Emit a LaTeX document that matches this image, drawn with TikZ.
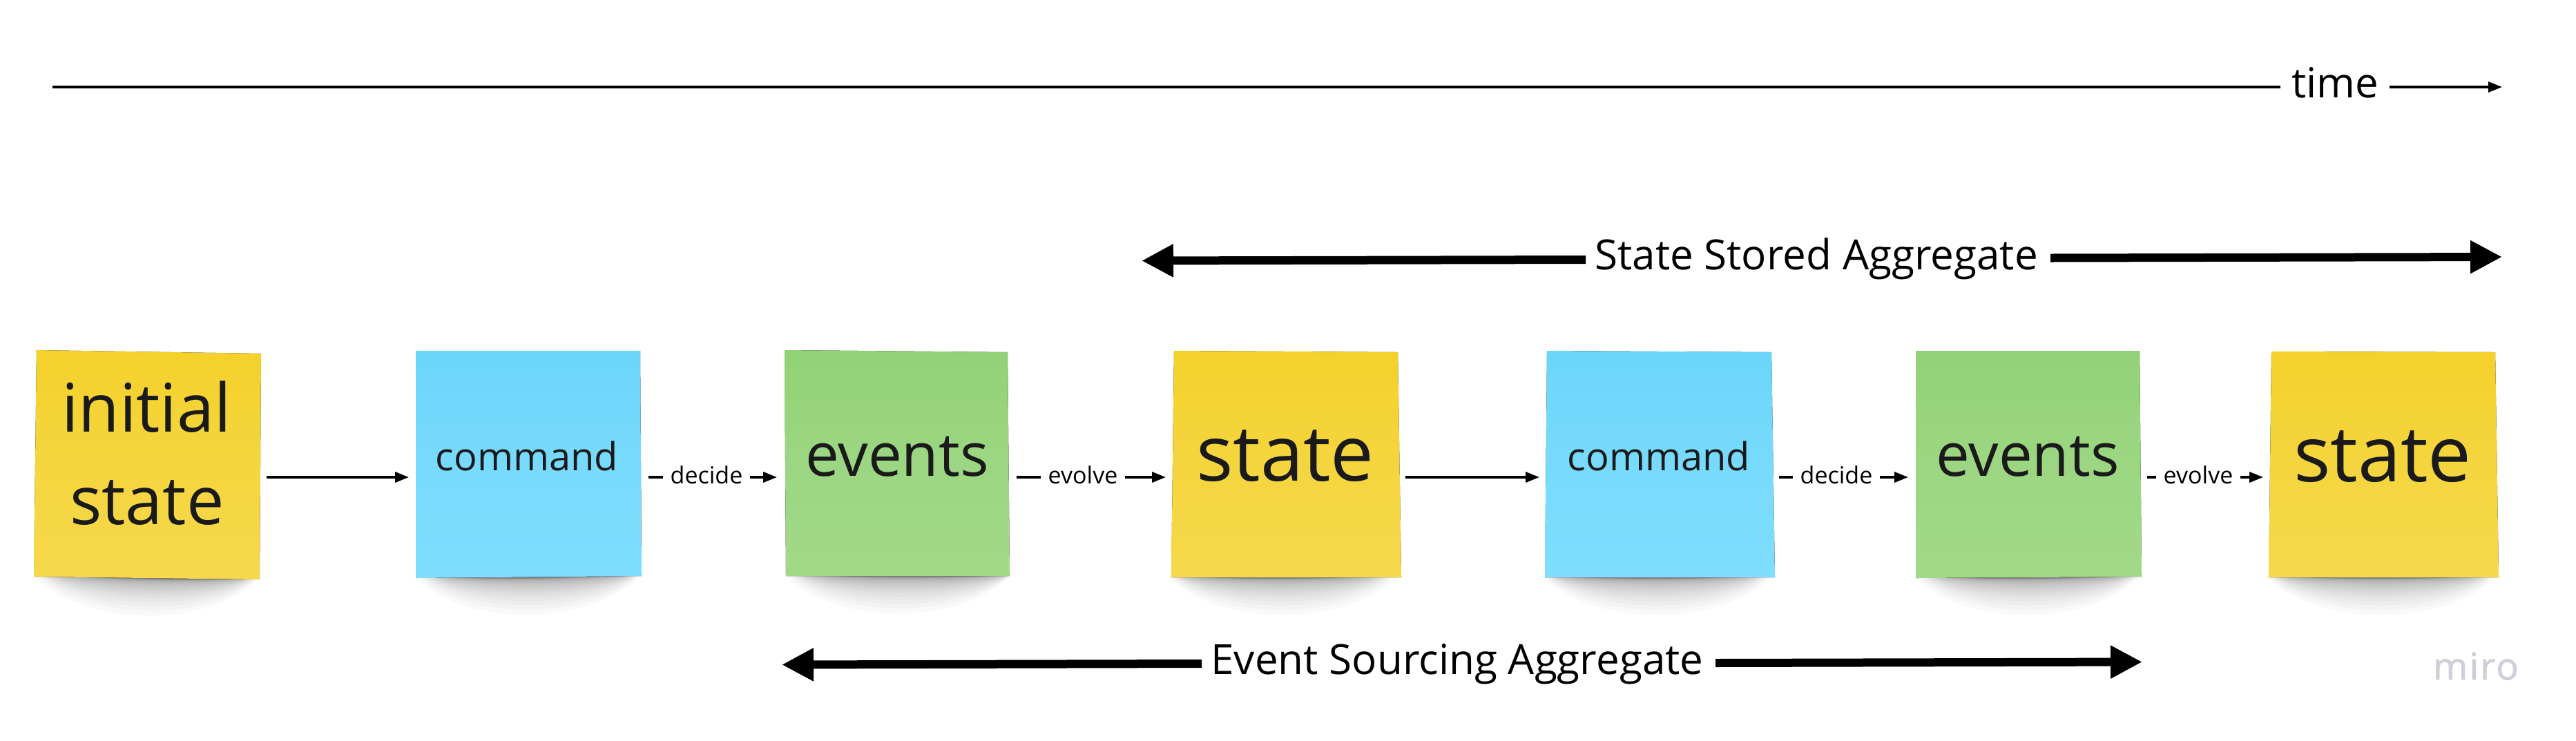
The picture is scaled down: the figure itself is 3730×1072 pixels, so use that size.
\documentclass[tikz,border=0pt]{standalone}
\usepackage{fontspec}
\setmainfont{Open Sans}
\newfontfamily\mirofont[FakeBold=1.5,LetterSpace=4]{Open Sans}
\usetikzlibrary{arrows.meta,calc}
\definecolor{yelA}{HTML}{F4D12A}
\definecolor{yelB}{HTML}{F5D84C}
\definecolor{bluA}{HTML}{6BD6FA}
\definecolor{bluB}{HTML}{80DDFD}
\definecolor{greA}{HTML}{92D277}
\definecolor{greB}{HTML}{A2D989}
\definecolor{ink}{HTML}{1A1A1A}
\definecolor{miroc}{HTML}{CFCFDC}
\tikzset{
  x=1pt,y=-1pt,
  notetext/.style={anchor=base,text=ink,inner sep=0pt,outer sep=0pt,align=center},
  bigtext/.style={notetext,font=\fontsize{97}{134}\selectfont},
  hugetext/.style={notetext,font=\fontsize{112}{130}\selectfont},
  midtext/.style={notetext,font=\fontsize{87}{100}\selectfont},
  cmdtext/.style={notetext,font=\fontsize{56}{66}\selectfont},
  steplabel/.style={anchor=base,inner ysep=0pt,inner xsep=11pt,outer sep=0pt,font=\fontsize{34}{40}\selectfont},
  spanlabel/.style={anchor=base,inner ysep=0pt,inner xsep=17pt,outer sep=0pt,font=\fontsize{60.2}{75}\selectfont},
  timelabel/.style={anchor=base,inner ysep=0pt,inner xsep=16pt,outer sep=0pt,font=\fontsize{60}{70}\selectfont},
  thinline/.style={line width=3.4pt,draw=black},
  thinarrow/.style={thinline,-{Triangle[length=20pt,width=15pt]}},
  spanline/.style={line width=12pt,draw=black},
  spanhead/.style={spanline,-{Triangle[length=46pt,width=45pt]}},
  wmark/.style={anchor=base,text=miroc,inner sep=0pt,font=\mirofont\fontsize{54}{60}\selectfont},
}
% #1 #2 #3 #4 corners TL TR BR BL; #5 #6 colours; #7 #8 core insets
\newcommand{\stickynote}[8]{%
  \path (#3) coordinate (pbr) (#4) coordinate (pbl);
  \path let \p1=(pbl),\p2=(pbr) in \pgfextra{%
    \pgfmathsetmacro{\xL}{\x1}\pgfmathsetmacro{\xR}{\x2}%
    \pgfmathsetmacro{\yL}{-\y1}\pgfmathsetmacro{\yR}{-\y2}%
    \global\let\gxL\xL\global\let\gxR\xR\global\let\gyL\yL\global\let\gyR\yR};
  \foreach \t in {0.02,0.06,...,1.0}{%
    \pgfmathsetmacro{\la}{\gxL-10+sqrt(\t)*(#7+10)}%
    \pgfmathsetmacro{\lb}{\gxR+3-sqrt(\t)*(#8+3)}%
    \pgfmathsetmacro{\dd}{4+58*(1-\t)^3.6}%
    \pgfmathsetmacro{\ca}{\la+0.22*(\lb-\la)}%
    \pgfmathsetmacro{\cb}{\lb-0.22*(\lb-\la)}%
    \pgfmathsetmacro{\ya}{\gyL-2}%
    \pgfmathsetmacro{\yb}{\gyR-2}%
    \pgfmathsetmacro{\yc}{\ya+1.3*\dd}%
    \pgfmathsetmacro{\yd}{\yb+1.3*\dd}%
    \fill[black,opacity=0.022] (\la,\ya) .. controls (\ca,\yc) and (\cb,\yd) .. (\lb,\yb) -- cycle;
  }
  \fill[top color=#5,bottom color=#6,middle color=#5!40!#6] (#1) -- (#2) -- (#3) -- (#4) -- cycle;
}
\begin{document}
\begin{tikzpicture}
\useasboundingbox (0,0) rectangle (3730,1072);
\fill[white] (0,0) rectangle (3730,1072);

% stickies
\stickynote{53,507}{378,512}{376,839}{49,835}{yelA}{yelB}{50}{25}
\stickynote{602,508}{927,508}{929,834}{602,837}{bluA}{bluB}{52}{20}
\stickynote{1136,507}{1459,510}{1462,834}{1138,834}{greA}{greB}{45}{2}
\stickynote{1700,508}{2024,510}{2029,836}{1696,836}{yelA}{yelB}{24}{53}
\stickynote{2240,508}{2565,510}{2570,836}{2237,836}{bluA}{bluB}{25}{41}
\stickynote{2774,508}{3098,508}{3101,835}{2774,837}{greA}{greB}{50}{25}
\stickynote{3289,509}{3613,510}{3618,836}{3285,836}{yelA}{yelB}{24}{36}

% sticky texts
\node[bigtext] (init1) at (212,625) {initial};
\node[bigtext] (init2) at (213,759) {state};
\node[cmdtext] (cmd1) at (763,681) {command};
\node[midtext] (ev1) at (1299,689) {events};
\node[hugetext] (st1) at (1861,696) {state};
\node[cmdtext] (cmd2) at (2402,681) {command};
\node[midtext] (ev2) at (2936,689) {events};
\node[hugetext] (st2) at (3450,697) {state};

% time line
\node[timelabel] (time) at (3381,141) {time};
\coordinate (timeA) at (76,126);
\coordinate (timeB) at (3623,126);
\draw[thinline] (timeA) -- (timeA -| time.west);
\draw[thinarrow] (timeB -| time.east) -- (timeB);

% span arrows
\node[spanlabel] (ssa) at (2630,390) {State Stored Aggregate};
\coordinate (ssaL) at (1653,377.5);
\coordinate (ssaLi) at (2296,376);
\coordinate (ssaRi) at (2969,373.5);
\coordinate (ssaR) at (3623,372);
\draw[spanhead] (ssaLi) -- (ssaL);
\draw[spanhead] (ssaRi) -- (ssaR);

\node[spanlabel] (esa) at (2110,976) {Event Sourcing Aggregate};
\coordinate (esaL) at (1132,962.5);
\coordinate (esaLi) at (1740,961);
\coordinate (esaRi) at (2484,960);
\coordinate (esaR) at (3102,958.5);
\draw[spanhead] (esaLi) -- (esaL);
\draw[spanhead] (esaRi) -- (esaR);

% connectors
\coordinate (a1) at (386,691); \coordinate (a2) at (592,691);
\draw[thinarrow] (a1) -- (a2);
\coordinate (a3) at (2035,691); \coordinate (a4) at (2229,691);
\draw[thinarrow] (a3) -- (a4);

\node[steplabel] (dec1) at (1023,700) {decide};
\coordinate (d1a) at (939,691); \coordinate (d1b) at (1125,691);
\draw[thinline] (d1a) -- (d1a -| dec1.west);
\draw[thinarrow] (d1b -| dec1.east) -- (d1b);

\node[steplabel] (evo1) at (1568,700) {evolve};
\coordinate (e1a) at (1472,691); \coordinate (e1b) at (1688,691);
\draw[thinline] (e1a) -- (e1a -| evo1.west);
\draw[thinarrow] (e1b -| evo1.east) -- (e1b);

\node[steplabel] (dec2) at (2659,700) {decide};
\coordinate (d2a) at (2576,691); \coordinate (d2b) at (2763,691);
\draw[thinline] (d2a) -- (d2a -| dec2.west);
\draw[thinarrow] (d2b -| dec2.east) -- (d2b);

\node[steplabel] (evo2) at (3183,700) {evolve};
\coordinate (e2a) at (3109,691); \coordinate (e2b) at (3277,691);
\draw[thinline] (e2a) -- (e2a -| evo2.west);
\draw[thinarrow] (e2b -| evo2.east) -- (e2b);

% watermark
\node[wmark] (miro) at (3585,984) {miro};
\end{tikzpicture}
\end{document}
